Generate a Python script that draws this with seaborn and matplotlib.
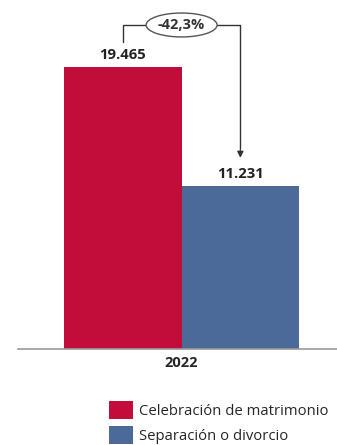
import matplotlib
matplotlib.use("Agg")
import matplotlib.pyplot as plt
import seaborn as sns
import pandas as pd

# Data
years = ["2022", "2022"]
tipos = ["Celebración de matrimonio", "Separación o divorcio"]
valores = [19465, 11231]
etiquetas = ["19.465", "11.231"]
variacion = "-42,3%"

colores = ["#C20C3A", "#4B6A9A"]

df = pd.DataFrame({"year": years, "tipo": tipos, "valor": valores})

sns.set_style("white")
plt.rcParams["font.family"] = ["Open Sans", "DejaVu Sans"]

fig = plt.figure(figsize=(3.37, 4.45), dpi=100)
ax = fig.add_axes([18 / 337, 96 / 445, 319 / 337, 349 / 445])

sns.barplot(data=df, x="year", y="valor", hue="tipo", palette=colores,
            width=0.8, saturation=1, linewidth=0, edgecolor="none",
            ax=ax, legend=True)

ax.set_xlim(-0.557, 0.529)
ax.set_ylim(0, 24090)
ax.set_xlabel("")
ax.set_ylabel("")
ax.set_yticks([])
for s in ["top", "right", "left"]:
    ax.spines[s].set_visible(False)
ax.spines["bottom"].set_color("#9a9a9a")
ax.spines["bottom"].set_linewidth(1.2)
ax.tick_params(axis="x", length=0, pad=5, labelsize=10.5)
for t in ax.get_xticklabels():
    t.set_fontweight("bold")

# value labels
xs = [-0.2, 0.2]
for x, v, lab in zip(xs, valores, etiquetas):
    ax.text(x, v + 350, lab, ha="center", va="bottom", fontsize=10.7,
            fontweight="bold", color="#222222")

# bracket with percent change
top = 22365
ax.plot([xs[0], xs[0], xs[1], xs[1]], [21190, top, top, 13900],
        color="#333333", lw=1)
ax.annotate("", xy=(xs[1], 13000), xytext=(xs[1], 13950),
            arrowprops=dict(arrowstyle="-|>", color="#333333", lw=1,
                            mutation_scale=9))
ax.text(0, top, variacion, ha="center", va="center", fontsize=10.5,
        fontweight="bold", color="#333333",
        bbox=dict(boxstyle="ellipse,pad=0.1", fc="white", ec="#555555", lw=1))

# legend
handles, labels = ax.get_legend_handles_labels()
ax.legend(handles, labels, loc="upper left",
          bbox_to_anchor=(109 / 337, 1 - 401 / 445),
          bbox_transform=fig.transFigure, frameon=False, fontsize=10.7,
          handlelength=1.61, handleheight=1.48, handletextpad=0.4,
          labelspacing=0.5, borderpad=0, borderaxespad=0)

fig.savefig("out.png", dpi=100)
